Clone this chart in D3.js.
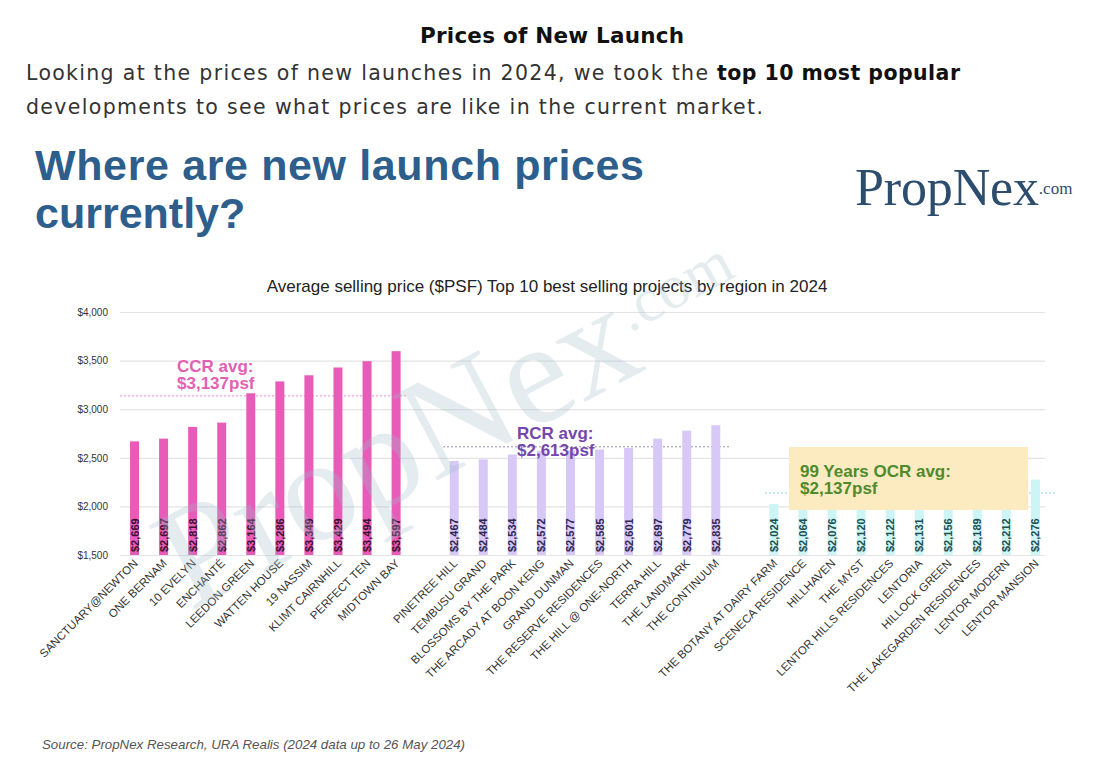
<!DOCTYPE html>
<html>
<head>
<meta charset="utf-8">
<script src="https://cdn.jsdelivr.net/npm/d3@7"></script>
<style>
    body { margin: 0; background: #fff; }
    svg { display: block; }
</style>
</head>
<body>
<div id="chart"></div>
<script>
// data
const ccrNames = ["SANCTUARY@NEWTON", "ONE BERNAM", "10 EVELYN", "ENCHANTÉ", "LEEDON GREEN",
    "WATTEN HOUSE", "19 NASSIM", "KLIMT CAIRNHILL", "PERFECT TEN", "MIDTOWN BAY"];
const ccrValues = [2669, 2697, 2818, 2862, 3164, 3286, 3349, 3429, 3494, 3597];

const rcrNames = ["PINETREE HILL", "TEMBUSU GRAND", "BLOSSOMS BY THE PARK", "THE ARCADY AT BOON KENG",
    "GRAND DUNMAN", "THE RESERVE RESIDENCES", "THE HILL @ ONE-NORTH", "TERRA HILL", "THE LANDMARK", "THE CONTINUUM"];
const rcrValues = [2467, 2484, 2534, 2572, 2577, 2585, 2601, 2697, 2779, 2835];

const ocrNames = ["THE BOTANY AT DAIRY FARM", "SCENECA RESIDENCE", "HILLHAVEN", "THE MYST",
    "LENTOR HILLS RESIDENCES", "LENTORIA", "HILLOCK GREEN", "THE LAKEGARDEN RESIDENCES", "LENTOR MODERN", "LENTOR MANSION"];
const ocrValues = [2024, 2064, 2076, 2120, 2122, 2131, 2156, 2189, 2212, 2276];

const regionKeys = ["CCR", "RCR", "OCR"];
const regionAvg = [3137, 2613, 2137];
const regionAvgLabel = [["CCR avg:", "$3,137psf"], ["RCR avg:", "$2,613psf"], ["99 Years OCR avg:", "$2,137psf"]];

const yTicks = [1500, 2000, 2500, 3000, 3500, 4000];

const W = 1100, H = 761;
const plot = {left: 120, right: 1050, top: 312, bottom: 555};
const barW = 9;

const colors = {
    CCR: {bar: "#e75cb8", text: "#e35fb4", val: "#3b1130", line: "#e48ac2"},
    RCR: {bar: "#d8c8f8", text: "#7447ad", val: "#2e2650", line: "#9a90b0"},
    OCR: {bar: "#cdf5f6", text: "#4f8a2c", val: "#1d4e50", line: "#8fd6d6"}
};

function prepareData() {
    const rows = [];
    const groups = [[ccrNames, ccrValues], [rcrNames, rcrValues], [ocrNames, ocrValues]];
    groups.forEach((g, gi) => {
        if (gi > 0) rows.push({key: "gap" + gi, gap: true});
        g[0].forEach((name, i) => {
            rows.push({key: name, value: g[1][i], region: regionKeys[gi]});
        });
    });
    return rows;
}

function show(selHolder) {
    const data = prepareData();
    const bars = data.filter(d => !d.gap);

    const svg = d3.select(selHolder)
        .append("svg")
        .attr("width", W)
        .attr("height", H);

    svg.append("rect").attr("width", W).attr("height", H).attr("fill", "#fff");

    // page heading
    svg.append("text")
        .attr("x", 552).attr("y", 43)
        .attr("text-anchor", "middle")
        .attr("textLength", 264)
        .style("font", "bold 21.5px 'DejaVu Sans', sans-serif")
        .attr("fill", "#111")
        .text("Prices of New Launch");

    const paraFont = "20.5px 'DejaVu Sans', sans-serif";
    svg.append("text")
        .attr("x", 26).attr("y", 80)
        .attr("textLength", 682)
        .style("font", paraFont)
        .attr("fill", "#333")
        .text("Looking at the prices of new launches in 2024, we took the");
    svg.append("text")
        .attr("x", 717).attr("y", 80)
        .attr("textLength", 243)
        .style("font", "bold 20.5px 'DejaVu Sans', sans-serif")
        .attr("fill", "#111")
        .text("top 10 most popular");
    svg.append("text")
        .attr("x", 26).attr("y", 114)
        .attr("textLength", 737)
        .style("font", paraFont)
        .attr("fill", "#333")
        .text("developments to see what prices are like in the current market.");

    // infographic header
    const head = svg.append("g")
        .style("font", "bold 43px 'Liberation Sans', Arial, sans-serif")
        .attr("fill", "#2e5f8c");
    head.append("text").attr("x", 35).attr("y", 180).attr("textLength", 609).text("Where are new launch prices");
    head.append("text").attr("x", 35).attr("y", 228).text("currently?");

    const logo = svg.append("text")
        .attr("x", 855).attr("y", 205)
        .attr("fill", "#2d4d6e")
        .style("font-family", "'Liberation Serif', 'Times New Roman', serif");
    logo.append("tspan").style("font-size", "52px").attr("textLength", 184).text("PropNex");
    logo.append("tspan").style("font-size", "17px").attr("dy", -11).text(".com");

    svg.append("text")
        .attr("x", 547).attr("y", 292)
        .attr("text-anchor", "middle")
        .style("font", "17px 'Liberation Sans', Arial, sans-serif")
        .attr("fill", "#222")
        .text("Average selling price ($PSF) Top 10 best selling projects by region in 2024");

    const x = d3.scalePoint()
        .domain(data.map(d => d.key))
        .range([plot.left, plot.right])
        .padding(0.5);

    const y = d3.scaleLinear()
        .domain([1500, 4000])
        .range([plot.bottom, plot.top]);

    const yAxis = d3.axisLeft(y)
        .tickValues(yTicks)
        .tickSize(-(plot.right - plot.left - 5))
        .tickPadding(12)
        .tickFormat(d => "$" + d3.format(",")(d));

    const gy = svg.append("g")
        .attr("transform", "translate(" + plot.left + ",0)")
        .call(yAxis);
    gy.select(".domain").remove();
    gy.selectAll(".tick line").attr("stroke", "#e4e4e4").attr("stroke-width", 1.2);
    gy.selectAll(".tick text")
        .style("font", "10px 'Liberation Sans', Arial, sans-serif")
        .attr("fill", "#333");

    // average lines
    const avgExtent = [[plot.left, 408], [443, 731], [765, 1055]];
    svg.selectAll(".avg")
        .data(regionKeys)
        .enter().append("line")
        .attr("class", "avg")
        .attr("x1", (d, i) => avgExtent[i][0])
        .attr("x2", (d, i) => avgExtent[i][1])
        .attr("y1", (d, i) => y(regionAvg[i]))
        .attr("y2", (d, i) => y(regionAvg[i]))
        .attr("stroke", d => colors[d].line)
        .attr("stroke-width", 1)
        .attr("stroke-dasharray", "2,2");

    svg.selectAll(".bar")
        .data(bars)
        .enter().append("rect")
        .attr("class", "bar")
        .attr("x", d => x(d.key) - barW / 2)
        .attr("width", barW)
        .attr("y", d => y(d.value))
        .attr("height", d => y(1500) - y(d.value))
        .attr("fill", d => colors[d.region].bar);

    svg.selectAll(".val")
        .data(bars)
        .enter().append("text")
        .attr("class", "val")
        .attr("transform", d => "translate(" + (x(d.key) + 4) + "," + (plot.bottom - 3) + ") rotate(-90)")
        .style("font", "bold 11px 'Liberation Sans', Arial, sans-serif")
        .attr("fill", d => colors[d.region].val)
        .text(d => "$" + d3.format(",")(d.value));

    svg.selectAll(".xlab")
        .data(bars)
        .enter().append("text")
        .attr("class", "xlab")
        .attr("text-anchor", "end")
        .attr("transform", d => "translate(" + (x(d.key) + 4) + "," + (plot.bottom + 9) + ") rotate(-45)")
        .style("font", "11.5px 'Liberation Sans', Arial, sans-serif")
        .attr("fill", "#333")
        .text(d => d.key);

    // OCR callout box sits over its bars
    svg.append("rect")
        .attr("x", 789).attr("y", 447)
        .attr("width", 239).attr("height", 63)
        .attr("fill", "#fcebc0");

    const avgPos = [[177, 372], [517, 439], [800, 477]];
    regionKeys.forEach((k, i) => {
        const t = svg.append("text")
            .attr("x", avgPos[i][0]).attr("y", avgPos[i][1])
            .style("font", "bold 17px 'Liberation Sans', Arial, sans-serif")
            .attr("fill", colors[k].text);
        t.append("tspan").text(regionAvgLabel[i][0]);
        t.append("tspan").attr("x", avgPos[i][0]).attr("dy", 17).text(regionAvgLabel[i][1]);
    });

    // watermark
    const wm = svg.append("text")
        .attr("transform", "translate(190,612) rotate(-28)")
        .attr("fill", "#9fbccc")
        .attr("opacity", 0.28)
        .style("font-family", "'Liberation Serif', serif")
        .style("pointer-events", "none");
    wm.append("tspan").style("font-size", "146px").text("PropNex");
    wm.append("tspan").style("font-size", "62px").attr("dy", -40).text(".com");

    svg.append("text")
        .attr("x", 42).attr("y", 749)
        .style("font", "italic 13.3px 'Liberation Sans', Arial, sans-serif")
        .attr("fill", "#555")
        .text("Source: PropNex Research, URA Realis (2024 data up to 26 May 2024)");
}

show("#chart");
</script>
</body>
</html>
